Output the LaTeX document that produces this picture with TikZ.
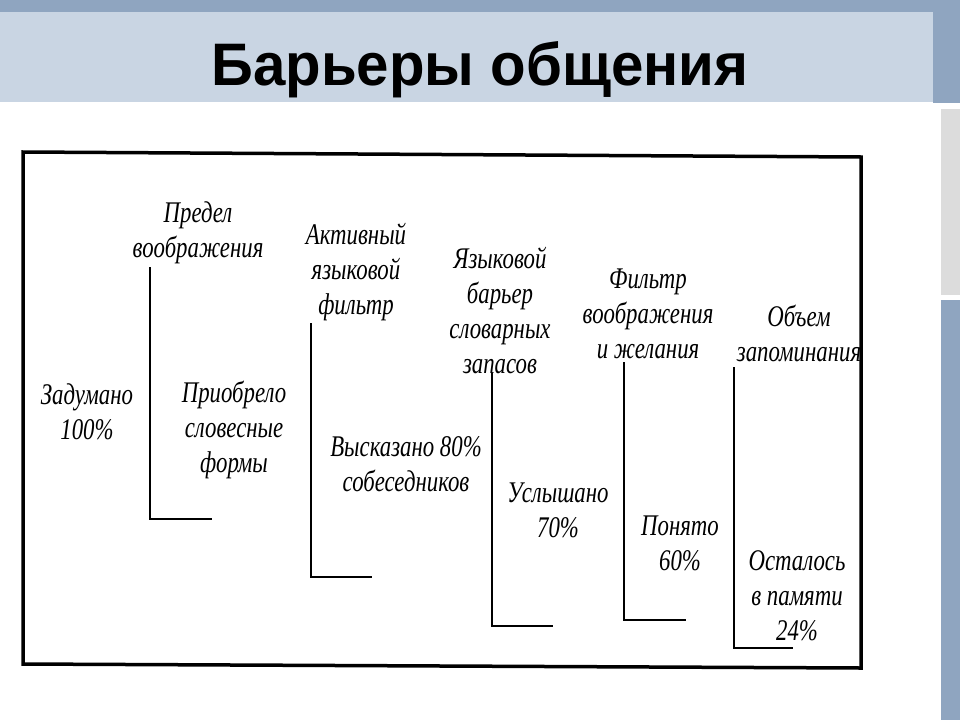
\documentclass[tikz,border=0pt]{standalone}
\usepackage{fontspec}
\setmainfont{Liberation Serif}
\newfontfamily\titlefont{Liberation Sans}
\usepackage{tikz}

\definecolor{slateblue}{HTML}{8FA5C0}
\definecolor{paleblue}{HTML}{C9D5E3}
\definecolor{stripgrey}{HTML}{DCDCDC}

\tikzset{
  lbl/.style={align=center,font=\itshape\fontsize{30}{35}\selectfont,xscale=0.76,inner sep=0pt},
  heading/.style={font=\titlefont\bfseries\fontsize{60}{66}\selectfont,xscale=0.97,inner sep=0pt},
  bar/.style={line width=2.8pt}
}

\begin{document}
\begin{tikzpicture}[x=1pt,y=-1pt]
      \useasboundingbox (0,0) rectangle (960,720);
      % slide background
      \fill [white] (0,0) rectangle (960,720);
      \fill [slateblue] (0,0) rectangle (960,12);
      \fill [slateblue] (933,0) rectangle (960,103);
      \fill [paleblue] (0,12) rectangle (933,102);
      \fill [stripgrey] (941,109) rectangle (960,295);
      \fill [slateblue] (941,300) rectangle (960,720);
      \draw (480,70) node (title) [heading] {Барьеры общения};
      % frame
      \draw [line width=3.5pt] (23,152)--(861,157)--(861,668)--(23,664)--cycle;
      % barriers
      \foreach \x/\ytop/\ybot/\len in {150/267/519/62, 311/323/577/61, 492/373/626/61, 624/362/620/62, 734/367/648/59}
        \draw [bar] (\x,\ytop)|-(\x+\len,\ybot);
      % stages
      \draw (87,412) node (planned) [lbl] {Задумано\\100\%};
      \draw (234,430) node (worded) [lbl] {Приобрело\\словесные\\формы};
      \draw (406,464) node (spoken) [lbl] {Высказано 80\%\\собеседников};
      \draw (558,510) node (heard) [lbl] {Услышано\\70\%};
      \draw (680,543) node (understood) [lbl] {Понято\\60\%};
      \draw (797,596) node (kept) [lbl] {Осталось\\в памяти\\24\%};
      % barrier names
      \draw (198,233) node (imagination) [lbl] {Предел\\воображения};
      \draw (356,272) node (langfilter) [lbl] {Активный\\языковой\\фильтр};
      \draw (500,310) node (vocab) [lbl] {Языковой\\барьер\\словарных\\запасов};
      \draw (648,314) node (wishes) [lbl] {Фильтр\\воображения\\и желания};
      \draw (799,333) node (memory) [lbl] {Объем\\запоминания};
    \end{tikzpicture}
\end{document}
